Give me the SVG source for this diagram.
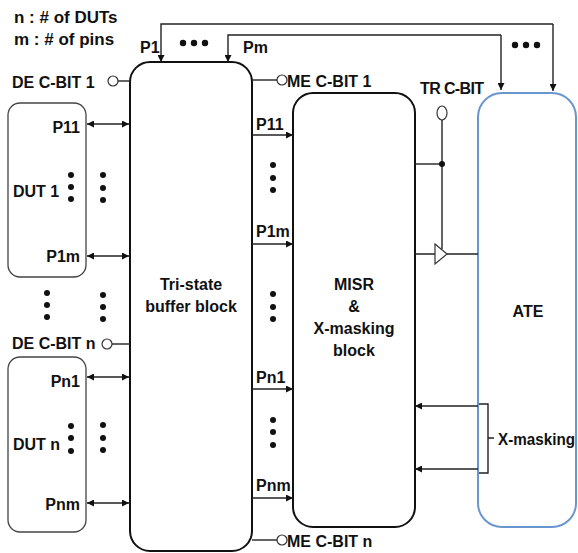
<svg xmlns="http://www.w3.org/2000/svg" width="578" height="553" viewBox="0 0 578 553">
<defs>
<style>
text{font-family:"Liberation Sans",Arial,sans-serif;font-size:16px;font-weight:bold;fill:#111}
.big{font-size:17px}
.blk{fill:#fff;stroke:#111;stroke-width:2}
.dut{fill:#fff;stroke:#444;stroke-width:1.3}
.ate{fill:#fff;stroke:#6a96d0;stroke-width:2}
.ln{fill:none;stroke:#222;stroke-width:1.4}
.arr{marker-end:url(#ah)}
.dbl{marker-start:url(#ahs);marker-end:url(#ah)}
.cb{fill:#fff;stroke:#333;stroke-width:1.2}
.dot{fill:#111}
</style>
<marker id="ah" viewBox="0 0 10 10" refX="10" refY="5" markerWidth="7" markerHeight="7" markerUnits="userSpaceOnUse" orient="auto"><path d="M0,0L10,5L0,10z" fill="#111"/></marker>
<marker id="ahs" viewBox="0 0 10 10" refX="0" refY="5" markerWidth="7" markerHeight="7" markerUnits="userSpaceOnUse" orient="auto"><path d="M10,0L0,5L10,10z" fill="#111"/></marker>
</defs>
<rect width="578" height="553" fill="#fff"/>

<g id="legend">
<text class="big" x="14" y="23">n  : # of DUTs</text>
<text class="big" x="14" y="45">m : # of pins</text>
</g>

<g id="tristate">
<rect class="blk" x="130" y="62" width="122" height="489" rx="20"/>
<text x="191" y="290" text-anchor="middle">Tri-state</text>
<text x="191" y="312" text-anchor="middle">buffer block</text>
</g>

<g id="misr">
<rect class="blk" x="293" y="93" width="122" height="434" rx="20"/>
<text x="354" y="290" text-anchor="middle">MISR</text>
<text x="354" y="312" text-anchor="middle">&amp;</text>
<text x="354" y="334" text-anchor="middle">X-masking</text>
<text x="354" y="356" text-anchor="middle">block</text>
</g>

<g id="ate">
<rect class="ate" x="478" y="93" width="98" height="434" rx="24"/>
<text x="528" y="317" text-anchor="middle">ATE</text>
</g>

<g id="dut1">
<rect class="dut" x="8" y="103" width="78" height="174" rx="12"/>
<text x="13" y="197">DUT 1</text>
<text x="80" y="133" text-anchor="end">P11</text>
<text x="80" y="262" text-anchor="end">P1m</text>
<circle class="dot" cx="71" cy="175" r="3"/><circle class="dot" cx="71" cy="187" r="3"/><circle class="dot" cx="71" cy="199" r="3"/>
</g>

<g id="dutn">
<rect class="dut" x="8" y="357" width="78" height="175" rx="12"/>
<text x="13" y="450">DUT n</text>
<text x="80" y="387" text-anchor="end">Pn1</text>
<text x="80" y="510" text-anchor="end">Pnm</text>
<circle class="dot" cx="71" cy="426" r="3"/><circle class="dot" cx="71" cy="438" r="3"/><circle class="dot" cx="71" cy="451" r="3"/>
</g>

<g id="de-cbit-1">
<text x="12" y="88">DE C-BIT 1</text>
<circle class="cb" cx="113" cy="81" r="5"/>
</g>
<g id="de-cbit-n">
<text x="12" y="349">DE C-BIT n</text>
<circle class="cb" cx="107" cy="344" r="5"/>
</g>
<g id="me-cbit-1">
<circle class="cb" cx="282" cy="80" r="5"/>
<text x="287" y="87">ME C-BIT 1</text>
</g>
<g id="me-cbit-n">
<circle class="cb" cx="282" cy="540" r="5"/>
<text x="287" y="547">ME C-BIT n</text>
</g>
<g id="tr-cbit">
<text x="420" y="94" textLength="64">TR C-BIT</text>
<ellipse class="cb" cx="442" cy="113" rx="5" ry="7"/>
</g>

<g id="connectors">
<path class="ln" d="M118,81H130"/>
<path class="ln" d="M112,344H130"/>
<path class="ln" d="M252,80H277"/>
<path class="ln" d="M252,540H277"/>
<path class="ln arr" d="M553,24H161V62"/>
<path class="ln arr" d="M553,24V91"/>
<path class="ln arr" d="M501,35H228V62"/>
<path class="ln arr" d="M501,35V90"/>
<path class="ln dbl" d="M87,124H129"/>
<path class="ln dbl" d="M87,256H129"/>
<path class="ln dbl" d="M87,377H129"/>
<path class="ln dbl" d="M87,503H129"/>
<path class="ln arr" d="M252,135H293"/>
<path class="ln arr" d="M252,244H293"/>
<path class="ln arr" d="M252,389H293"/>
<path class="ln arr" d="M252,498H293"/>
<path class="ln" d="M442,120V249"/>
<path class="ln" d="M415,164H442"/>
<circle class="dot" cx="442" cy="164" r="3"/>
<path class="ln" d="M415,254H435M447,254H478"/>
<path d="M435,244L447,254L435,264z" fill="#fff" stroke="#333" stroke-width="1.2"/>
<path class="ln arr" d="M478,406H415"/>
<path class="ln arr" d="M478,469H415"/>
<path class="ln" d="M479,404H488V473H479M488,438H494"/>
<text x="498" y="445" textLength="77" lengthAdjust="spacingAndGlyphs">X-masking</text>
</g>

<g id="ellipsis">
<circle class="dot" cx="183" cy="43" r="3.2"/><circle class="dot" cx="194" cy="43" r="3.2"/><circle class="dot" cx="205" cy="43" r="3.2"/>
<circle class="dot" cx="515" cy="45" r="3.2"/><circle class="dot" cx="526" cy="45" r="3.2"/><circle class="dot" cx="537" cy="45" r="3.2"/>
<circle class="dot" cx="103" cy="175" r="3"/><circle class="dot" cx="103" cy="188" r="3"/><circle class="dot" cx="103" cy="200" r="3"/>
<circle class="dot" cx="47" cy="293" r="3"/><circle class="dot" cx="47" cy="305" r="3"/><circle class="dot" cx="47" cy="317" r="3"/>
<circle class="dot" cx="103" cy="295" r="3"/><circle class="dot" cx="103" cy="307" r="3"/><circle class="dot" cx="103" cy="319" r="3"/>
<circle class="dot" cx="103" cy="425" r="3"/><circle class="dot" cx="103" cy="438" r="3"/><circle class="dot" cx="103" cy="450" r="3"/>
<circle class="dot" cx="273" cy="165" r="3"/><circle class="dot" cx="273" cy="178" r="3"/><circle class="dot" cx="273" cy="190" r="3"/>
<circle class="dot" cx="273" cy="294" r="3"/><circle class="dot" cx="273" cy="307" r="3"/><circle class="dot" cx="273" cy="319" r="3"/>
<circle class="dot" cx="273" cy="420" r="3"/><circle class="dot" cx="273" cy="432" r="3"/><circle class="dot" cx="273" cy="445" r="3"/>
</g>

<g id="pin-labels">
<text x="140" y="53">P1</text>
<text x="243" y="53">Pm</text>
<text x="256" y="130">P11</text>
<text x="256" y="237">P1m</text>
<text x="256" y="383">Pn1</text>
<text x="256" y="491">Pnm</text>
</g>
</svg>
